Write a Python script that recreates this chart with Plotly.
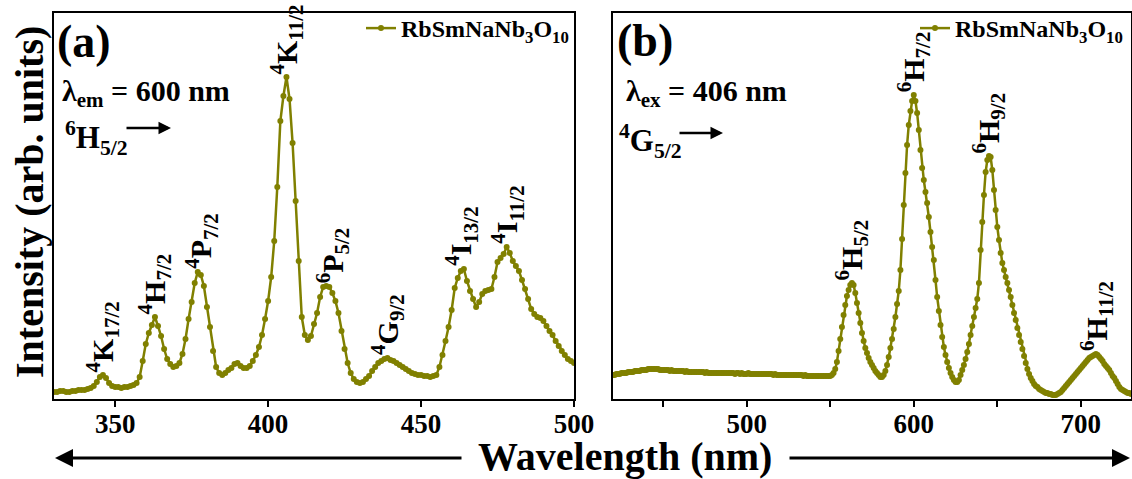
import plotly.graph_objects as go

OLIVE = "#808000"
SERIF = "Liberation Serif"

# Excitation spectrum (emission monitored at 600 nm)
wl_exc = list(range(330, 501))
exc = [
    7, 7, 8, 8, 7, 7, 8, 8, 9, 9,
    9, 10, 11, 13, 17, 22, 24, 21, 16, 13,
    12, 12, 11, 12, 12, 13, 14, 16, 22, 38,
    55, 66, 74, 82, 73, 63, 50, 40, 35, 32,
    33, 36, 45, 60, 80, 97, 116, 127, 124, 113,
    92, 72, 48, 32, 26, 24, 26, 29, 31, 35,
    36, 33, 31, 31, 33, 38, 44, 52, 64, 80,
    98, 122, 158, 212, 278, 303, 322, 300, 256, 198,
    138, 82, 64, 59, 63, 75, 86, 102, 112, 113,
    112, 106, 98, 86, 68, 50, 36, 26, 20, 17,
    16, 17, 20, 23, 28, 32, 36, 38, 40, 41,
    39, 38, 36, 34, 32, 30, 28, 26, 25, 24,
    24, 23, 23, 22, 23, 24, 32, 44, 58, 72,
    89, 111, 121, 128, 130, 118, 108, 100, 92, 97,
    105, 108, 109, 110, 122, 137, 141, 145, 152, 146,
    138, 133, 128, 119, 110, 100, 90, 85, 82, 81,
    78, 73, 68, 64, 58, 53, 48, 44, 40, 38,
    36,
]

# Emission spectrum (excited at 406 nm)
wl_em = list(range(420, 731))
em = [
    24, 24, 25, 25, 25, 26, 26, 26, 26, 27,
    27, 27, 27, 28, 28, 28, 28, 29, 29, 29,
    29, 30, 30, 30, 30, 30, 30, 30, 29, 29,
    29, 29, 29, 29, 28, 29, 28, 28, 28, 28,
    28, 28, 28, 27, 28, 27, 27, 27, 27, 27,
    27, 27, 27, 27, 27, 26, 27, 26, 26, 26,
    26, 26, 26, 26, 26, 26, 26, 26, 26, 26,
    26, 26, 26, 25, 26, 26, 25, 26, 25, 25,
    25, 26, 25, 25, 25, 25, 25, 25, 25, 25,
    25, 25, 25, 25, 25, 25, 24, 25, 24, 24,
    24, 24, 24, 24, 24, 24, 24, 24, 24, 24,
    24, 24, 24, 24, 23, 24, 23, 23, 23, 23,
    23, 23, 23, 23, 23, 23, 23, 23, 23, 23,
    23, 24, 26, 30, 37, 48, 60, 72, 84, 94,
    103, 109, 114, 116, 114, 106, 96, 86, 76, 66,
    58, 51, 46, 41, 37, 34, 31, 28, 26, 24,
    22, 22, 24, 28, 34, 42, 51, 60, 70, 82,
    95, 108, 129, 160, 194, 226, 254, 274, 288, 298,
    304, 298, 286, 269, 249, 231, 219, 207, 196, 182,
    167, 152, 139, 119, 102, 88, 74, 62, 52, 44,
    37, 31, 26, 22, 19, 17, 17, 19, 24, 29,
    34, 40, 47, 55, 64, 73, 82, 91, 100, 116,
    149, 177, 204, 227, 239, 243, 242, 229, 209, 189,
    172, 159, 146, 136, 129, 122, 116, 109, 102, 94,
    86, 79, 71, 64, 57, 50, 43, 36, 30, 25,
    21, 18, 15, 13, 12, 10, 9, 8, 7, 6,
    6, 5, 5, 4, 4, 4, 5, 6, 7, 9,
    11, 13, 15, 17, 19, 21, 23, 25, 27, 29,
    31, 33, 35, 37, 39, 41, 42, 43, 44, 45,
    44, 42, 40, 38, 35, 33, 31, 29, 26, 23,
    21, 18, 15, 12, 10, 9, 8, 7, 6, 6,
    5,
]

# Transition labels: (text, wavelength of the band)
exc_labels = [
    ("<sup>4</sup>K<sub>17/2</sub>", 346),
    ("<sup>4</sup>H<sub>7/2</sub>", 363),
    ("<sup>4</sup>P<sub>7/2</sub>", 378),
    ("<sup>4</sup>K<sub>11/2</sub>", 406),
    ("<sup>6</sup>P<sub>5/2</sub>", 421),
    ("<sup>4</sup>G<sub>9/2</sub>", 439),
    ("<sup>4</sup>I<sub>13/2</sub>", 463),
    ("<sup>4</sup>I<sub>11/2</sub>", 478),
]
em_labels = [
    ("<sup>6</sup>H<sub>5/2</sub>", 563),
    ("<sup>6</sup>H<sub>7/2</sub>", 600),
    ("<sup>6</sup>H<sub>9/2</sub>", 645),
    ("<sup>6</sup>H<sub>11/2</sub>", 709),
]

SAMPLE = "RbSmNaNb<sub>3</sub>O<sub>10</sub>"

W, H = 1132, 479


def px(x):
    return x / W


def py(y):
    return 1 - y / H


def bold(size):
    return dict(family=SERIF, size=size, color="black", weight="bold")


fig = go.Figure()
fig.add_trace(go.Scatter(
    x=wl_exc, y=exc, mode="lines+markers", name=SAMPLE,
    line=dict(color=OLIVE, width=2.5), marker=dict(color=OLIVE, size=6),
    xaxis="x", yaxis="y", legend="legend",
))
fig.add_trace(go.Scatter(
    x=wl_em, y=em, mode="lines+markers", name=SAMPLE,
    line=dict(color=OLIVE, width=2.5), marker=dict(color=OLIVE, size=6),
    xaxis="x2", yaxis="y2", legend="legend2",
))


def peak_near(xs, ys, w, span=3):
    return max(v for x, v in zip(xs, ys) if abs(x - w) <= span)


annotations = []
for text, w in exc_labels:
    annotations.append(dict(
        x=w, y=peak_near(wl_exc, exc, w), xref="x", yref="y", text=text,
        textangle=-90, showarrow=False, xanchor="center", yanchor="bottom",
        yshift=1, font=bold(30),
    ))
for text, w in em_labels:
    annotations.append(dict(
        x=w, y=peak_near(wl_em, em, w), xref="x2", yref="y2", text=text,
        textangle=-90, showarrow=False, xanchor="center", yanchor="bottom",
        yshift=1, font=bold(30),
    ))

# Panel letters and excitation / emission notes
annotations += [
    dict(x=px(55), y=py(42), xref="paper", yref="paper", text="(a)", showarrow=False,
         xanchor="left", yanchor="middle", font=bold(46)),
    dict(x=px(615), y=py(41), xref="paper", yref="paper", text="(b)", showarrow=False,
         xanchor="left", yanchor="middle", font=bold(46)),
    dict(x=px(60), y=py(93), xref="paper", yref="paper", text="λ<sub>em</sub> = 600 nm",
         showarrow=False, xanchor="left", yanchor="middle", font=bold(30)),
    dict(x=px(624), y=py(93), xref="paper", yref="paper", text="λ<sub>ex</sub> = 406 nm",
         showarrow=False, xanchor="left", yanchor="middle", font=bold(30)),
    dict(x=px(63), y=py(138), xref="paper", yref="paper", text="<sup>6</sup>H<sub>5/2</sub>",
         showarrow=False, xanchor="left", yanchor="middle", font=bold(31)),
    dict(x=px(617), y=py(141), xref="paper", yref="paper", text="<sup>4</sup>G<sub>5/2</sub>",
         showarrow=False, xanchor="left", yanchor="middle", font=bold(31)),
    # short arrows after the level names
    dict(x=px(171), y=py(128), xref="paper", yref="paper", text="", showarrow=True,
         ax=-46, ay=0, arrowhead=2, arrowsize=1, arrowwidth=2.5, arrowcolor="black", standoff=0),
    dict(x=px(723), y=py(133), xref="paper", yref="paper", text="", showarrow=True,
         ax=-45, ay=0, arrowhead=2, arrowsize=1, arrowwidth=2.5, arrowcolor="black", standoff=0),
    # shared axis title with long arrows on both sides
    dict(x=px(625), y=py(456), xref="paper", yref="paper", text="Wavelength (nm)",
         showarrow=False, xanchor="center", yanchor="middle", font=bold(40)),
    dict(x=px(55), y=py(458), xref="paper", yref="paper", text="", showarrow=True,
         ax=408, ay=0, arrowhead=2, arrowsize=1.2, arrowwidth=3, arrowcolor="black", standoff=0),
    dict(x=px(1130), y=py(458), xref="paper", yref="paper", text="", showarrow=True,
         ax=-342, ay=0, arrowhead=2, arrowsize=1.2, arrowwidth=3, arrowcolor="black", standoff=0),
    dict(x=px(30), y=py(202), xref="paper", yref="paper", text="Intensity (arb. units)",
         textangle=-90, showarrow=False, xanchor="center", yanchor="middle", font=bold(40)),
]

xcommon = dict(
    showline=True, linecolor="black", linewidth=2, mirror=True,
    ticks="outside", ticklen=6, tickwidth=2, tickcolor="black",
    showgrid=False, zeroline=False, tickfont=bold(27), ticklabelstandoff=-6,
    automargin=False,
)
ycommon = dict(
    showline=True, linecolor="black", linewidth=2, mirror=True,
    ticks="", showticklabels=False, showgrid=False, zeroline=False,
    range=[0, 386], domain=[py(399), py(13)], automargin=False,
)

legend_style = dict(
    bgcolor="rgba(0,0,0,0)", borderwidth=0, yanchor="top", xanchor="right",
    font=bold(24), itemwidth=30,
)

fig.update_layout(
    width=W, height=H,
    margin=dict(l=0, r=0, t=0, b=0, pad=0, autoexpand=False),
    paper_bgcolor="white", plot_bgcolor="white",
    xaxis=dict(xcommon, domain=[px(54), px(574)], range=[330, 500],
               tickvals=[350, 400, 450, 500], anchor="y"),
    xaxis2=dict(xcommon, domain=[px(613), px(1131)], range=[420, 730],
                tickvals=[450, 500, 550, 600, 650, 700],
                ticktext=["", "500", "", "600", "", "700"], anchor="y2"),
    yaxis=dict(ycommon, anchor="x"),
    yaxis2=dict(ycommon, anchor="x2"),
    legend=dict(legend_style, x=px(574), y=py(6)),
    legend2=dict(legend_style, x=px(1128), y=py(6)),
    annotations=annotations,
    showlegend=True,
)

fig.write_html("out.html")
